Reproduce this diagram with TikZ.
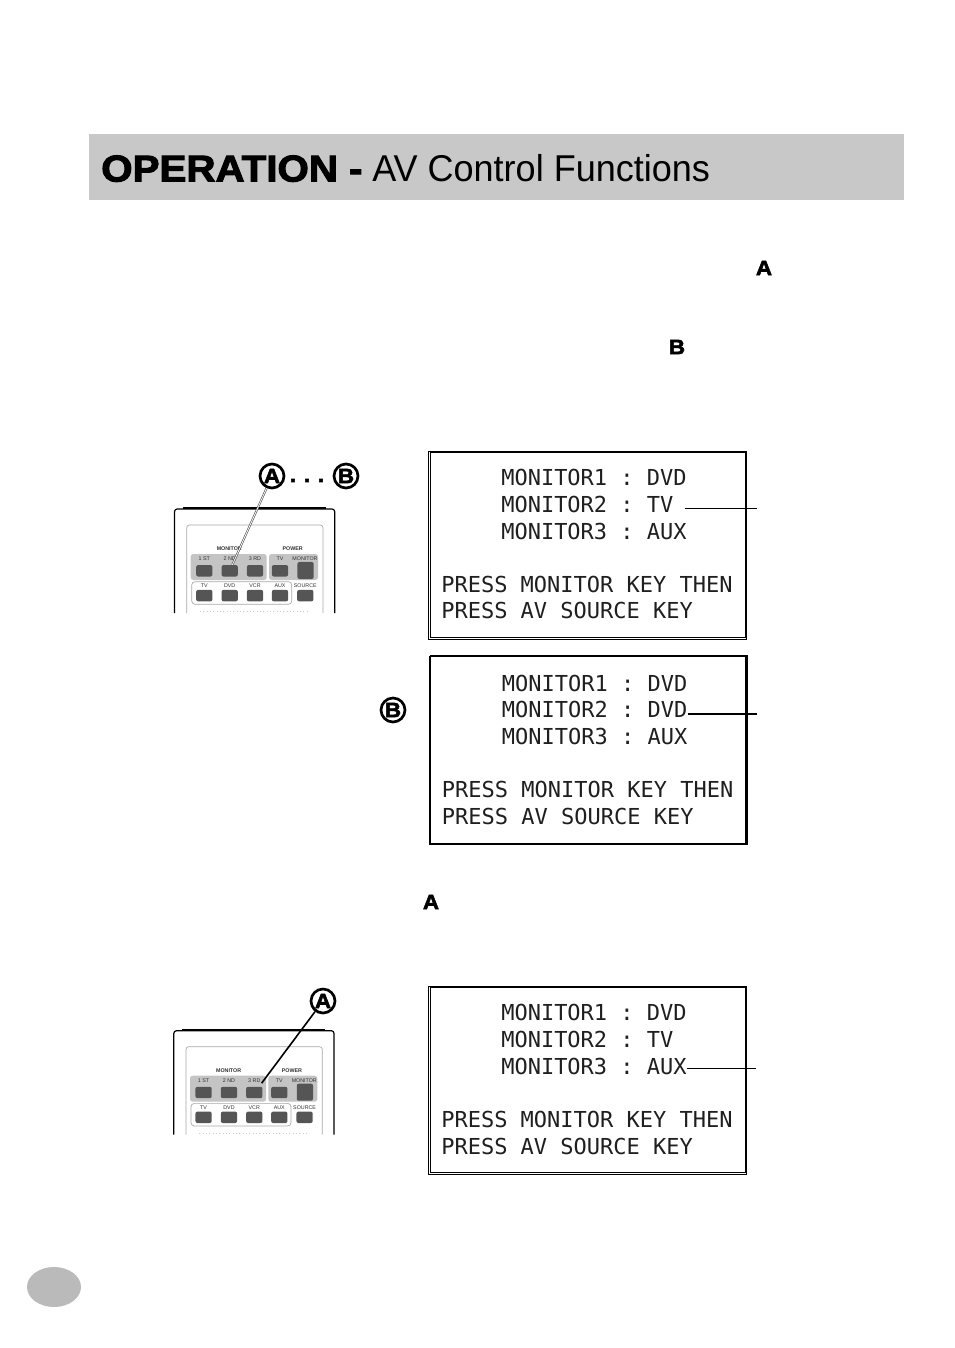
\documentclass[tikz,border=0pt]{standalone}
\usepackage{fontspec}
\setmainfont{Liberation Sans}
\newfontfamily\monofont{DejaVu Sans Mono}
\newfontfamily\blackfont[FakeBold=2.6,FakeStretch=1.08]{Liberation Sans Bold}
\newfontfamily\lightfont[FakeStretch=.965]{Liberation Sans}
\usetikzlibrary{positioning,shapes.geometric}

\definecolor{bargray}{HTML}{C8C8C8}
\definecolor{keygray}{HTML}{555555}
\definecolor{zonegray}{HTML}{C4C4C4}
\definecolor{edgegray}{HTML}{A8A8A8}

\tikzset{
  screenline/.style={font=\monofont\fontsize{16.5}{16.5}\selectfont, text=black!88, anchor=west, inner sep=0pt, text height=11.5pt, text depth=0pt},
  callout/.style={draw, circle, line width=2pt, fill=white, inner sep=0pt, minimum width=18pt, font=\blackfont\fontsize{15.5}{15.5}\selectfont},
  boldmark/.style={inner sep=0pt, font=\blackfont\fontsize{15.5}{15.5}\selectfont},
  keyface/.style={fill=keygray, rounded corners=1.5pt, inner sep=0pt, minimum width=12.2pt, minimum height=8.6pt},
  keytext/.style={inner sep=0pt, font=\fontsize{4}{4}\selectfont, text=black!80},
  remote/.pic={
    % body and inner panel, both cut off at the bottom
    \draw[line width=.9pt, rounded corners=2pt] (174.5,613) -- (174.5,509) -- (334.7,509) -- (334.7,613);
    \draw[line width=1.3pt] (183,508.3) -- (326,508.3);
    \draw[edgegray, line width=.5pt, rounded corners=2pt] (186.7,613) -- (186.7,525) -- (323,525) -- (323,613);
    \fill[zonegray, rounded corners=2pt] (190.7,554) rectangle (266.7,580);
    \fill[zonegray, rounded corners=2pt] (269,554) rectangle (318,580);
    \draw[edgegray, line width=.5pt, rounded corners=2.5pt] (191.7,581.7) rectangle (291.7,604.3);
    \draw[black!20, line width=.5pt, dotted] (200,611.7) -- (310,611.7);
    \node[keytext, font=\bfseries\fontsize{4}{4}\selectfont] (mon) at (229.3,548.7) {MONITOR};
    \node[keytext, font=\bfseries\fontsize{4}{4}\selectfont] (pow) at (292.7,548.7) {POWER};
    \foreach \name/\xpos/\txt in {k1/204.3/1 ST, k2/229.7/2 ND, k3/255/3 RD, k4/280/TV} {
      \node[keyface] (\name) at (\xpos,570.8) {};
      \node[keytext] (\name t) at (\xpos,558.7) {\txt};
    }
    \node[keyface, minimum height=12.8pt] (k5) at (305.6,570.5) {};
    \node[keytext] (k5t) at (305,558.7) {MONITOR};
    \foreach \name/\xpos/\txt in {s1/204.3/TV, s2/229.7/DVD, s3/255/VCR, s4/280/AUX, s5/305.3/SOURCE} {
      \node[keyface] (\name) at (\xpos,595.6) {};
      \node[keytext] (\name t) at (\xpos,586) {\txt};
    }
  }
}

\begin{document}
\begin{tikzpicture}[x=.75pt,y=-.75pt]
  \useasboundingbox (0,0) rectangle (954,1348);
  \fill[white] (0,0) rectangle (954,1348);

  % title bar
  \node[fill=bargray, minimum width=611.25pt, minimum height=49.5pt, inner sep=0pt] (bar) at (496.5,167) {};
  \node[anchor=base west, inner sep=0pt, font=\blackfont\fontsize{28}{28}\selectfont] (title) at (101,181.5) {OPERATION -};
  \node[anchor=base west, inner sep=0pt, font=\lightfont\fontsize{28}{28}\selectfont] (subtitle) at (372,181.5) {AV Control Functions};

  % letters in the running text
  \node[boldmark] (ma) at (764,268) {A};
  \node[boldmark] (mb) at (677,347) {B};
  \node[boldmark] (mc) at (431,902) {A};

  % remotes
  \pic (ra) at (0,0) {remote};
  \pic (rb) at (-.7,521.7) {remote};

  \node[callout] (a1) at (272,476) {A};
  \node[callout] (b1) at (346,476) {B};
  \node[inner sep=0pt, font=\blackfont\fontsize{15}{15}\selectfont] (dots) at (307,480.5) {. . .};
  \node[callout] (b2) at (393,710) {B};
  \node[callout] (a2) at (323,1001) {A};

  \draw[line width=1.5pt, black!70] (a1) -- (rak2);
  \draw[line width=.6pt, white] (a1) -- (rak2);
  \draw[line width=1.2pt] (a2) -- ([shift={(5.5pt,7pt)}]rbk3.center);

  % screens
  \draw[line width=.6pt] (428.5,451) rectangle (746.5,639);
  \draw[line width=1.1pt] (430.5,452) rectangle (746,637.5);
  \draw[line width=1.3pt] (430,656.5) rectangle (746,844);
  \draw[line width=.6pt] (430,655.5) -- (747.7,655.5) -- (747.7,844.5) -- (746,844.5);
  \draw[line width=.6pt] (428.5,986) rectangle (746,1174);
  \draw[line width=1.1pt] (430.5,987) rectangle (745.5,1172.5);

  \foreach \name/\xpos/\ypos/\txt in {
    sa1/501/478/MONITOR1 :\ DVD, sa2/501/505/MONITOR2 :\ TV, sa3/501/532/MONITOR3 :\ AUX,
    sa4/441/585/PRESS MONITOR KEY THEN, sa5/441/611/PRESS AV SOURCE KEY,
    sb1/501.7/684/MONITOR1 :\ DVD, sb2/501.7/710/MONITOR2 :\ DVD, sb3/501.7/737/MONITOR3 :\ AUX,
    sb4/441.7/790/PRESS MONITOR KEY THEN, sb5/441.7/817/PRESS AV SOURCE KEY,
    sc1/501/1013/MONITOR1 :\ DVD, sc2/501/1040/MONITOR2 :\ TV, sc3/501/1067/MONITOR3 :\ AUX,
    sc4/441/1120/PRESS MONITOR KEY THEN, sc5/441/1147/PRESS AV SOURCE KEY}
    \node[screenline] (\name) at (\xpos,\ypos) {\txt};

  % leader lines
  \coordinate (ea) at (757,508);
  \coordinate (eb) at (757,714);
  \coordinate (ec) at (756,1068);
  \draw[line width=.6pt] ([shift={(8.25pt,-2.25pt)}]sa2.east) -- (ea);
  \draw[line width=1.1pt] ([yshift=-3pt]sb2.east) -- (eb);
  \draw[line width=.6pt] ([yshift=-.75pt]sc3.east) -- (ec);

  % page number disc
  \node[fill=black!27, ellipse, minimum width=40.5pt, minimum height=30pt, inner sep=0pt] (disc) at (54,1287) {};
\end{tikzpicture}
\end{document}
